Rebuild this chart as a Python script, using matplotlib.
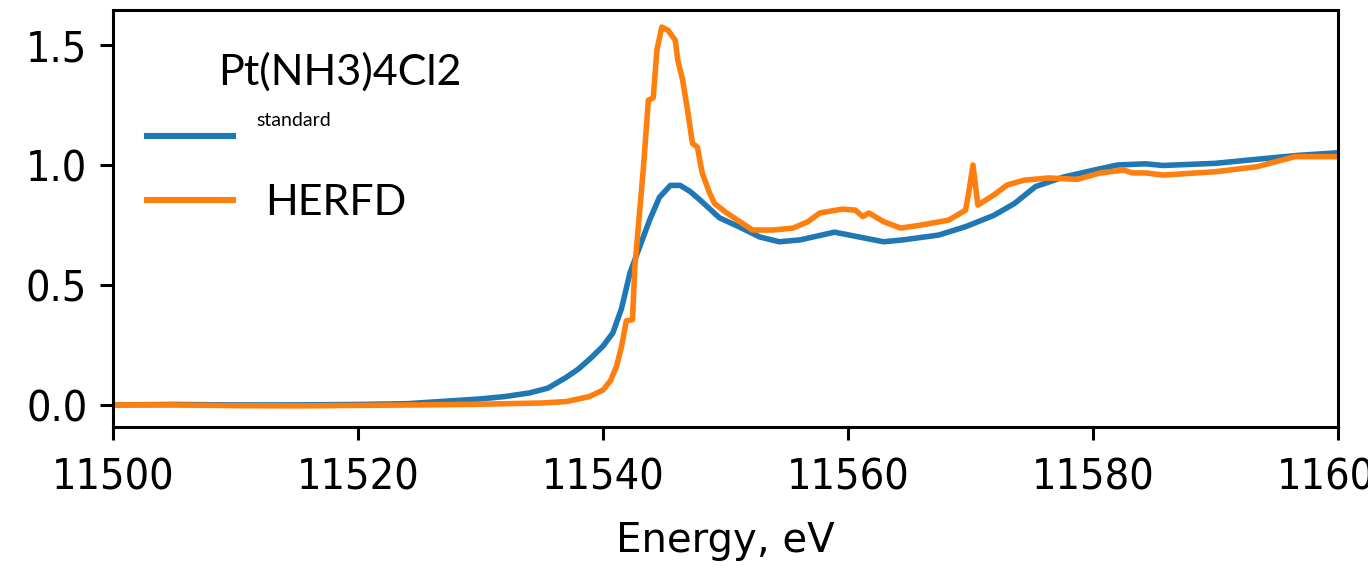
import matplotlib
matplotlib.use("Agg")
import matplotlib.pyplot as plt

# standard XANES (blue)
std_energy = [11500, 11505, 11510, 11515, 11520, 11524, 11527, 11530, 11532, 11534,
              11535.5, 11537, 11538, 11539, 11540, 11540.8, 11541.5, 11542.2, 11543.0,
              11543.8, 11544.6, 11545.5, 11546.3, 11547.1, 11547.9, 11549.5, 11551.2,
              11552.8, 11554.4, 11556.1, 11558.9, 11560.9, 11562.9, 11564.5, 11567.4,
              11569.6, 11571.9, 11573.6, 11575.3, 11577.6, 11580.1, 11582.0, 11584.3,
              11585.7, 11590.0, 11594.2, 11596.7, 11599.7]
std_mu = [0.000, 0.002, 0.000, 0.000, 0.002, 0.005, 0.015, 0.025, 0.035, 0.050,
          0.070, 0.115, 0.150, 0.195, 0.245, 0.300, 0.400, 0.550, 0.660,
          0.770, 0.865, 0.915, 0.915, 0.890, 0.855, 0.780, 0.740,
          0.700, 0.680, 0.688, 0.720, 0.700, 0.680, 0.688, 0.708,
          0.743, 0.790, 0.840, 0.910, 0.950, 0.979, 1.000, 1.005,
          0.998, 1.007, 1.028, 1.040, 1.050]

# HERFD XANES (orange)
herfd_energy = [11500, 11505, 11510, 11515, 11520, 11525, 11530, 11535, 11537, 11538.9,
                11540.0, 11540.6, 11541.1, 11541.5, 11541.9, 11542.4, 11542.6, 11543.3,
                11543.7, 11544.1, 11544.4, 11544.8, 11545.3, 11545.9, 11546.1, 11546.5,
                11546.9, 11547.3, 11547.7, 11548.1, 11548.7, 11549.1, 11550.1, 11551.2,
                11552.2, 11553.9, 11555.5, 11556.7, 11557.7, 11559.5, 11560.6, 11561.2,
                11561.7, 11562.9, 11564.3, 11566.0, 11568.2, 11569.6, 11569.9, 11570.2,
                11570.6, 11571.9, 11573.0, 11574.4, 11576.4, 11578.7, 11580.6, 11582.5,
                11583.2, 11584.3, 11585.7, 11590.0, 11593.4, 11596.5, 11599.7]
herfd_mu = [0.000, 0.000, -0.003, -0.004, -0.002, 0.000, 0.003, 0.008, 0.014, 0.035,
            0.062, 0.100, 0.160, 0.240, 0.350, 0.355, 0.575, 0.990,
            1.270, 1.280, 1.480, 1.575, 1.562, 1.520, 1.437, 1.354,
            1.229, 1.090, 1.075, 0.966, 0.883, 0.840, 0.800, 0.763,
            0.729, 0.729, 0.737, 0.763, 0.800, 0.816, 0.812, 0.785,
            0.800, 0.764, 0.737, 0.750, 0.770, 0.812, 0.900, 1.000,
            0.833, 0.875, 0.917, 0.937, 0.946, 0.940, 0.967, 0.979,
            0.967, 0.967, 0.958, 0.972, 0.993, 1.035, 1.035]

sample = "Pt(NH3)4Cl2"
labels = ["standard", "HERFD"]
x_ticks = [11500, 11520, 11540, 11560, 11580, 11600]
y_ticks = [0.0, 0.5, 1.0, 1.5]

fig = plt.figure(figsize=(13.68, 5.66), dpi=100)
ax = fig.add_axes([0.0826, 0.2456, 0.8955, 0.7367])

ax.plot(std_energy, std_mu, color="#1f77b4", lw=4.0, label=labels[0])
ax.plot(herfd_energy, herfd_mu, color="#ff7f0e", lw=4.0, label=labels[1])

ax.set_xlim(11500, 11600)
ax.set_ylim(-0.092, 1.646)
ax.set_xticks(x_ticks)
ax.set_yticks(y_ticks)
ax.set_yticklabels([f"{v:.1f}" for v in y_ticks])

tick_font = dict(family="DejaVu Sans", size=31, stretch="condensed")
for lab in ax.get_xticklabels() + ax.get_yticklabels():
    lab.set_fontproperties(matplotlib.font_manager.FontProperties(**tick_font))
ax.tick_params(length=9.5, width=2.2, pad=9)
ax.tick_params(axis="x", pad=12)
for sp in ax.spines.values():
    sp.set_linewidth(2.2)

ax.set_xlabel("Energy, eV", family="DejaVu Sans", fontsize=29, labelpad=16)

leg = ax.legend(title=sample, loc="upper left", bbox_to_anchor=(0.0278, 0.898),
                frameon=False, borderpad=0, borderaxespad=0,
                prop={"family": "Lato", "size": 31},
                title_fontproperties={"family": "Lato", "size": 31},
                handlelength=2.0, handletextpad=0.55, labelspacing=0.68,
                alignment="left")
for line in leg.get_lines():
    line.set_linewidth(4.4)
texts = leg.get_texts()
texts[0].set_fontsize(14)
texts[0].set_position((0, 25))
texts[1].set_position((8, 0))
leg.get_title().set_position((71, 0))

fig.savefig("out.png", dpi=100)
